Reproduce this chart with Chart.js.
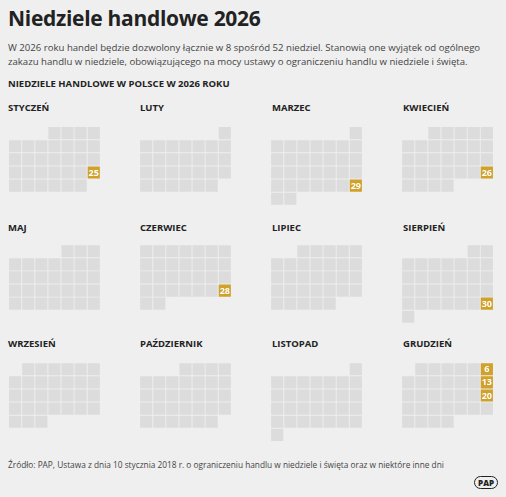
<!DOCTYPE html>
<html><head><meta charset="utf-8">
<script src="https://cdn.jsdelivr.net/npm/chart.js@4"></script>
<style>
body{margin:0;background:#efefef;font-family:"Open Sans",sans-serif;color:#222;width:506px;height:497px;overflow:hidden;position:relative}
h1{position:absolute;left:8px;top:4px;margin:0;font-size:21px;font-weight:700;letter-spacing:-0.3px}
.sub{position:absolute;left:8px;top:41px;width:495px;font-size:9.6px;line-height:14px;color:#444}
.head{position:absolute;left:8px;top:77px;font-size:9.5px;font-weight:700}
.m{position:absolute;font-size:9.5px;font-weight:700}
.src{position:absolute;left:8px;top:459px;font-size:8.3px;color:#444}
.logo{position:absolute;right:8px;top:476px;font-size:8px;font-weight:800;border:1.5px solid #222;border-radius:9px;padding:0 3px}
#c{position:absolute;left:0px;top:118px}
</style></head><body>
<h1>Niedziele handlowe 2026</h1>
<div class="sub">W 2026 roku handel będzie dozwolony łącznie w 8 spośród 52 niedziel. Stanowią one wyjątek od ogólnego zakazu handlu w niedziele, obowiązującego na mocy ustawy o ograniczeniu handlu w niedziele i święta.</div>
<div class="head">NIEDZIELE HANDLOWE W POLSCE W 2026 ROKU</div>
<div id="labels"></div>
<div class="src">Źródło: PAP, Ustawa z dnia 10 stycznia 2018 r. o ograniczeniu handlu w niedziele i święta oraz w niektóre inne dni</div>
<div class="logo">PAP</div>
<div id="c"><canvas id="cal" width="502" height="332"></canvas></div>
<script>
const year = 2026;
const months = ['STYCZEŃ','LUTY','MARZEC','KWIECIEŃ','MAJ','CZERWIEC','LIPIEC','SIERPIEŃ','WRZESIEŃ','PAŹDZIERNIK','LISTOPAD','GRUDZIEŃ'];
const tradingSundays = [[25],[],[29],[26],[],[28],[],[30],[],[],[],[6,13,20]];

// month labels
const labelTops = [101, 221, 337];
const labelLefts = [8, 140, 272, 403];
months.forEach((m, i) => {
  const d = document.createElement('div');
  d.className = 'm';
  d.textContent = m;
  d.style.left = labelLefts[i % 4] + 'px';
  d.style.top = labelTops[Math.floor(i / 4)] + 'px';
  document.getElementById('labels').appendChild(d);
});

// one cell per day: x = month column * 10 + weekday, y = month row * 9 + week
const plain = [], marked = [];
months.forEach((m, mi) => {
  const first = (new Date(year, mi, 1).getDay() + 6) % 7;
  const days = new Date(year, mi + 1, 0).getDate();
  for (let d = 1; d <= days; d++) {
    const idx = first + d - 1;
    const pt = {x: (mi % 4) * 10 + (idx % 7) + 0.5, y: Math.floor(mi / 4) * 9 + Math.floor(idx / 7) + 0.5, day: d};
    (tradingSundays[mi].includes(d) ? marked : plain).push(pt);
  }
});

const dayText = {
  id: 'dayText',
  afterDatasetsDraw(chart) {
    const ctx = chart.ctx;
    ctx.save();
    ctx.fillStyle = '#fff';
    ctx.font = 'bold 9px "Open Sans"';
    ctx.textAlign = 'center';
    ctx.textBaseline = 'middle';
    chart.getDatasetMeta(1).data.forEach((p, i) => ctx.fillText(marked[i].day, p.x, p.y + 0.5));
    ctx.restore();
  }
};

new Chart(document.getElementById('cal'), {
  type: 'scatter',
  data: {
    datasets: [
      {data: plain, pointStyle: 'rect', pointRadius: 8.6, backgroundColor: '#dcdcdc', borderWidth: 0},
      {data: marked, pointStyle: 'rect', pointRadius: 8.6, backgroundColor: '#d0a22c', borderWidth: 0}
    ]
  },
  options: {
    responsive: false,
    animation: false,
    layout: {padding: 0},
    plugins: {legend: {display: false}, tooltip: {enabled: false}},
    scales: {
      x: {type: 'linear', min: 0, max: 37, display: false},
      y: {type: 'linear', min: 0, max: 24, reverse: true, display: false}
    }
  },
  plugins: [dayText]
});
</script>
</body></html>
